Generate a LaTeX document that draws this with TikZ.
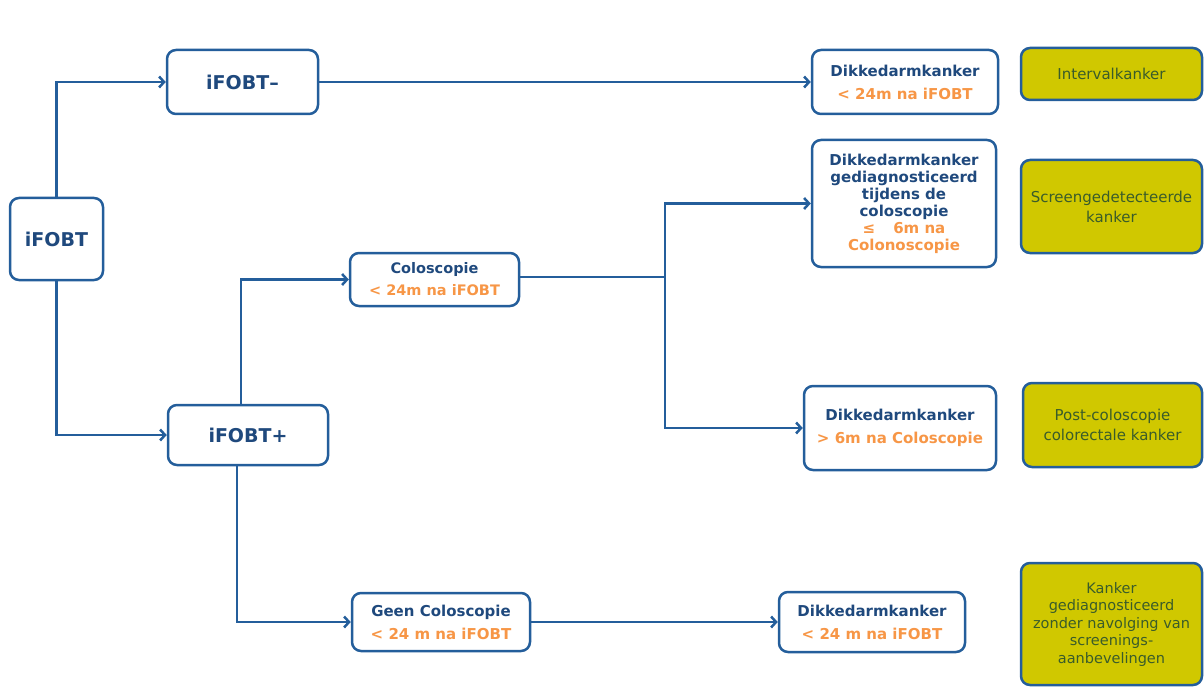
\documentclass[tikz,border=0pt]{standalone}
\usepackage{fontspec}
\setmainfont{DejaVu Sans}
\usepackage{tikz}
\usetikzlibrary{arrows.meta}
\definecolor{scr_blue}{RGB}{36, 94, 155}
\definecolor{scr_text}{RGB}{31, 73, 125}
\definecolor{scr_orange}{RGB}{247, 150, 70}
\definecolor{scr_green}{RGB}{208, 200, 0}
\definecolor{scr_olive}{RGB}{58, 92, 42}
\tikzstyle{wb}=[rectangle,rounded corners=9pt,fill=white,draw=scr_blue,
  line width=2.5pt,align=center,inner sep=2pt,text=scr_text,
  font=\bfseries\fontsize{15}{23}\selectfont]
\tikzstyle{gb}=[rectangle,rounded corners=9pt,fill=scr_green,draw=scr_blue,
  line width=2.5pt,align=center,inner sep=2pt,text=scr_olive,
  font=\fontsize{15}{20}\selectfont]
\tikzstyle{big}=[font=\bfseries\fontsize{19}{22}\selectfont]
\tikzstyle{arrow}=[draw=scr_blue,line width=2.5pt,-{Straight Barb[length=5pt,width=11pt]}]
\tikzstyle{line}=[draw=scr_blue,line width=2.5pt]
\tikzstyle{none}=[inner sep=0pt]
\newcommand{\org}[1]{\textcolor{scr_orange}{#1}}

\begin{document}
\begin{tikzpicture}[x=1pt,y=-1pt]
            \useasboundingbox (0, 0) rectangle (1204, 687);
            \node [style=wb, style=big, minimum width=93pt, minimum height=82pt] (0) at (56.5, 239) {iFOBT};
            \node [style=wb, style=big, minimum width=151pt, minimum height=64pt] (1) at (242.5, 82) {iFOBT–};
            \node [style=wb, style=big, minimum width=160pt, minimum height=60pt] (2) at (248, 435) {iFOBT+};
            \node [style=wb, minimum width=169pt, minimum height=53pt, font=\bfseries\fontsize{14.5}{22}\selectfont] (3) at (434.5, 279.5) {Coloscopie\\ \org{< 24m na iFOBT}};
            \node [style=wb, minimum width=178pt, minimum height=58pt] (4) at (441, 622) {Geen Coloscopie\\ \org{< 24 m na iFOBT}};
            \node [style=wb, minimum width=186pt, minimum height=64pt] (5) at (905, 82) {Dikkedarmkanker\\ \org{< 24m na iFOBT}};
            \node [style=wb, minimum width=184pt, minimum height=127pt, font=\bfseries\fontsize{15}{17}\selectfont] (6) at (904, 203.5) {Dikkedarmkanker\\ gediagnosticeerd\\ tijdens de\\ coloscopie\\ \org{≤\hspace{1.2em}6m na}\\ \org{Colonoscopie}};
            \node [style=wb, minimum width=192pt, minimum height=84pt] (7) at (900, 428) {Dikkedarmkanker\\ \org{> 6m na Coloscopie}};
            \node [style=wb, minimum width=186pt, minimum height=60pt] (8) at (872, 622) {Dikkedarmkanker\\ \org{< 24 m na iFOBT}};
            \node [style=gb, minimum width=181pt, minimum height=52pt] (9) at (1111.5, 74) {Intervalkanker};
            \node [style=gb, minimum width=181pt, minimum height=93pt] (10) at (1111.5, 206.5) {Screengedetecteerde\\ kanker};
            \node [style=gb, minimum width=179pt, minimum height=84pt] (11) at (1112.5, 425) {Post-coloscopie\\ colorectale kanker};
            \node [style=gb, minimum width=181pt, minimum height=122pt, font=\fontsize{14.5}{17.5}\selectfont] (12) at (1111.5, 624) {Kanker\\ gediagnosticeerd\\ zonder navolging van\\ screenings-\\ aanbevelingen};
            \node [style=none] (13) at (241, 405) {};
            \node [style=none] (14) at (237, 465) {};
            \node [style=none] (15) at (665, 277) {};
            \draw [style=arrow] (0.north) |- (1.west);
            \draw [style=arrow] (0.south) |- (2.west);
            \draw [style=arrow] (1.east) to (5.west);
            \draw [style=arrow] (13.center) |- (3.west);
            \draw [style=arrow] (14.center) |- (4.west);
            \draw [style=line] (3.east |- 15) to (15.center);
            \draw [style=arrow] (15.center) |- (6.west);
            \draw [style=arrow] (15.center) |- (7.west);
            \draw [style=arrow] (4.east) to (8.west);
    \end{tikzpicture}
\end{document}
